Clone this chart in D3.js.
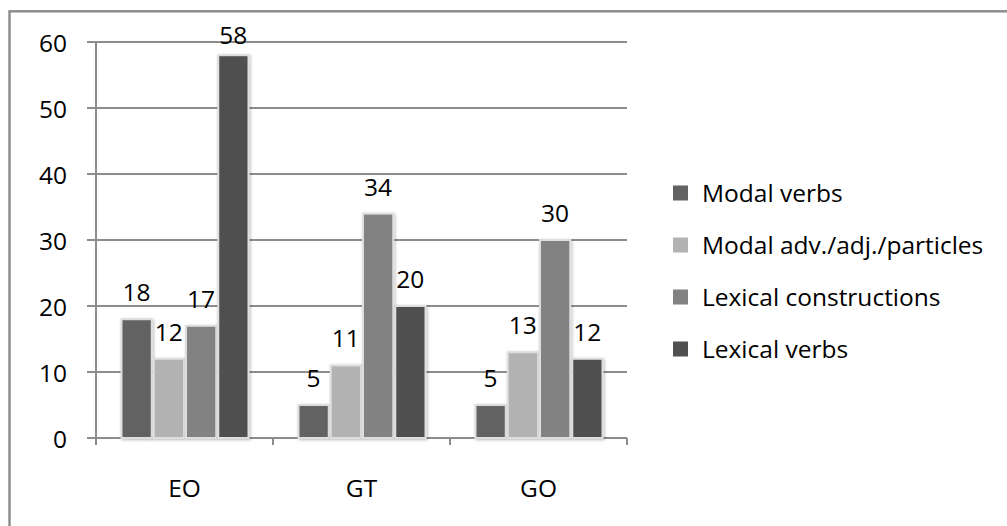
<!DOCTYPE html>
<html>
<head>
<meta charset="utf-8">
<script src="https://cdn.jsdelivr.net/npm/d3@7/dist/d3.min.js"></script>
<style>
  html, body { margin: 0; padding: 0; background: #fff; }
  svg { display: block; font-family: "Open Sans", Lato, sans-serif; }
</style>
</head>
<body>
<svg id="chart" width="1007" height="526"></svg>
<script>
// Corpora on the category axis
const categories = ["EO", "GT", "GO"];
// Series names, in legend order
const seriesNames = ["Modal verbs", "Modal adv./adj./particles", "Lexical constructions", "Lexical verbs"];
// Counts per series, one value per corpus
const modalVerbs = [18, 5, 5];
const modalAdv = [12, 11, 13];
const lexicalConstructions = [17, 34, 30];
const lexicalVerbs = [58, 20, 12];
// Value axis ticks
const yTicks = [0, 10, 20, 30, 40, 50, 60];

const seriesValues = [modalVerbs, modalAdv, lexicalConstructions, lexicalVerbs];
const seriesColors = ["#626262", "#b3b3b3", "#828282", "#505050"];

const fontSize = 24.5;
const svg = d3.select("#chart");

// drop shadow for the bars
const defs = svg.append("defs");
const f = defs.append("filter").attr("id", "shadow")
  .attr("x", "-30%").attr("y", "-10%").attr("width", "160%").attr("height", "130%");
f.append("feDropShadow").attr("dx", 1).attr("dy", 1).attr("stdDeviation", 1.6)
  .attr("flood-color", "#000").attr("flood-opacity", 0.28);

// chart frame
svg.append("rect")
  .attr("x", 9.5).attr("y", 11.3).attr("width", 1020).attr("height", 540)
  .attr("fill", "none").attr("stroke", "#8a8a8a").attr("stroke-width", 2.4);

const plot = { left: 96, right: 627, top: 42, bottom: 438 };

const x0 = d3.scaleBand().domain(categories).range([plot.left, plot.right]);
const x1 = d3.scaleBand().domain(seriesNames).range([24.5, x0.bandwidth() - 23.5]);
const y = d3.scaleLinear().domain([0, 60]).range([plot.bottom, plot.top]);

const gridColor = "#8c8c8c";

// horizontal gridlines with their short outer ticks
svg.append("g").selectAll("line").data(yTicks).join("line")
  .attr("x1", plot.left - 9).attr("x2", plot.right)
  .attr("y1", d => y(d)).attr("y2", d => y(d))
  .attr("stroke", gridColor).attr("stroke-width", 2);

// value axis labels
svg.append("g").selectAll("text").data(yTicks).join("text")
  .attr("x", 67).attr("y", d => y(d) + 10)
  .attr("text-anchor", "end")
  .attr("font-size", fontSize).attr("fill", "#000")
  .text(d => d);

// vertical axis line
svg.append("line")
  .attr("x1", plot.left).attr("x2", plot.left)
  .attr("y1", plot.top).attr("y2", plot.bottom + 7)
  .attr("stroke", gridColor).attr("stroke-width", 2);

// category tick marks between groups
const boundaries = categories.map(c => x0(c)).concat([plot.right]);
svg.append("g").selectAll("line").data(boundaries.slice(1)).join("line")
  .attr("x1", d => d).attr("x2", d => d)
  .attr("y1", plot.bottom).attr("y2", plot.bottom + 7)
  .attr("stroke", gridColor).attr("stroke-width", 2);

// category labels
svg.append("g").selectAll("text").data(categories).join("text")
  .attr("x", d => x0(d) + x0.bandwidth() / 2)
  .attr("y", 497)
  .attr("text-anchor", "middle")
  .attr("font-size", fontSize).attr("fill", "#000")
  .text(d => d);

// bars
const barData = [];
categories.forEach((c, ci) => {
  seriesNames.forEach((s, si) => {
    barData.push({ cat: c, series: s, value: seriesValues[si][ci], color: seriesColors[si] });
  });
});

const bw = x1.bandwidth();
svg.append("g").selectAll("rect").data(barData).join("rect")
  .attr("x", d => x0(d.cat) + x1(d.series) + 1)
  .attr("y", d => y(d.value))
  .attr("width", bw - 2)
  .attr("height", d => y(0) - y(d.value))
  .attr("fill", d => d.color)
  .attr("stroke", "#dedede").attr("stroke-width", 2)
  .attr("filter", "url(#shadow)");

// value labels above the bars, kept inside the frame
svg.append("g").selectAll("text").data(barData).join("text")
  .attr("x", d => x0(d.cat) + x1(d.series) + bw / 2)
  .attr("y", d => Math.max(y(d.value) - 18, 44))
  .attr("text-anchor", "middle")
  .attr("font-size", fontSize).attr("fill", "#000")
  .text(d => d.value);

// legend
const legend = svg.append("g").selectAll("g").data(seriesNames).join("g")
  .attr("transform", (d, i) => `translate(673, ${193 + i * 52})`);
legend.append("rect")
  .attr("x", 0).attr("y", -7.5).attr("width", 15).attr("height", 15)
  .attr("fill", (d, i) => seriesColors[i]);
legend.append("text")
  .attr("x", 29).attr("y", 9)
  .attr("font-size", fontSize).attr("fill", "#000")
  .text(d => d);
</script>
</body>
</html>
